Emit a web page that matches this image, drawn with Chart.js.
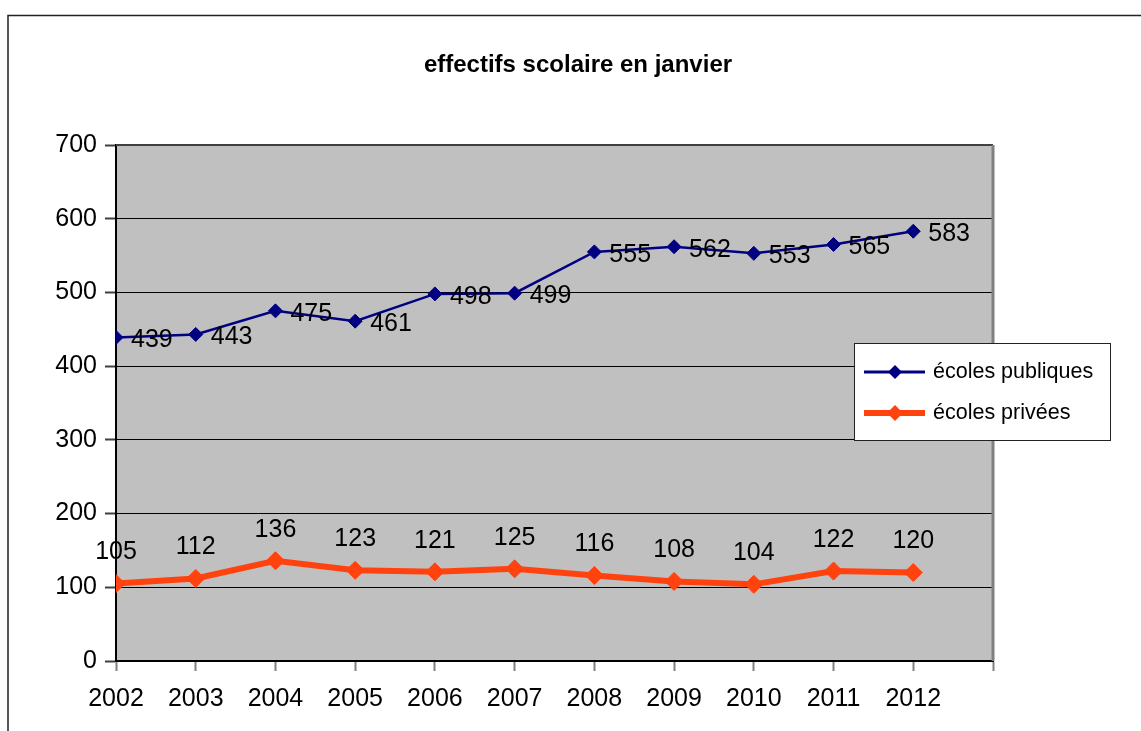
<!DOCTYPE html>
<html>
<head>
<meta charset="utf-8">
<script src="https://cdn.jsdelivr.net/npm/chart.js@4"></script>
<style>
  body { margin: 0; background: #fff; }
  #wrap { width: 1141px; height: 731px; }
</style>
</head>
<body>
<div id="wrap"><canvas id="chart"></canvas></div>
<script>
const years = [2002, 2003, 2004, 2005, 2006, 2007, 2008, 2009, 2010, 2011, 2012]
const publicValues = [439, 443, 475, 461, 498, 499, 555, 562, 553, 565, 583]
const privateValues = [105, 112, 136, 123, 121, 125, 116, 108, 104, 122, 120]
const seriesNames = ['écoles publiques', 'écoles privées']
const titleText = 'effectifs scolaire en janvier'

const FONT = '"Liberation Sans", Arial, sans-serif'
const NAVY = '#000080'
const ORANGE = '#FF420E'

function diamond(ctx, x, y, r, color) {
    ctx.beginPath()
    ctx.moveTo(x, y - r)
    ctx.lineTo(x + r, y)
    ctx.lineTo(x, y + r)
    ctx.lineTo(x - r, y)
    ctx.closePath()
    ctx.fillStyle = color
    ctx.fill()
}

// background, frame, title, value labels and legend box
const decor = {
    id: 'decor',
    beforeDraw(chart) {
        const ctx = chart.ctx
        const a = chart.chartArea
        ctx.save()
        ctx.fillStyle = '#fff'
        ctx.fillRect(0, 0, chart.width, chart.height)
        // outer frame (only top and left visible)
        ctx.strokeStyle = '#222'
        ctx.lineWidth = 1.5
        ctx.beginPath()
        ctx.moveTo(8, chart.height)
        ctx.lineTo(8, 15.5)
        ctx.lineTo(chart.width, 15.5)
        ctx.stroke()
        // plot area
        ctx.fillStyle = '#C0C0C0'
        ctx.fillRect(a.left, a.top, a.right - a.left, a.bottom - a.top)
        // title
        ctx.fillStyle = '#000'
        ctx.font = 'bold 24px ' + FONT
        ctx.textAlign = 'center'
        ctx.textBaseline = 'middle'
        ctx.fillText(titleText, 578, 65)
        ctx.restore()
    },
    beforeDatasetsDraw(chart) {
        const ctx = chart.ctx
        const a = chart.chartArea
        ctx.save()
        ctx.strokeStyle = '#404040'
        ctx.lineWidth = 2
        ctx.beginPath()
        ctx.moveTo(a.left, a.top)
        ctx.lineTo(a.right, a.top)
        ctx.stroke()
        ctx.strokeStyle = '#808080'
        ctx.lineWidth = 3
        ctx.beginPath()
        ctx.moveTo(a.right, a.top)
        ctx.lineTo(a.right, a.bottom)
        ctx.stroke()
        ctx.restore()
    },
    afterDatasetsDraw(chart) {
        const ctx = chart.ctx
        ctx.save()
        ctx.fillStyle = '#000'
        ctx.font = '25px ' + FONT
        ctx.textBaseline = 'middle'
        chart.getDatasetMeta(0).data.forEach((pt, i) => {
            ctx.textAlign = 'left'
            ctx.fillText(String(publicValues[i]), pt.x + 15, pt.y + 3)
        })
        chart.getDatasetMeta(1).data.forEach((pt, i) => {
            ctx.textAlign = 'center'
            ctx.fillText(String(privateValues[i]), pt.x, pt.y - 31)
        })
        ctx.restore()
    },
    afterDraw(chart) {
        const ctx = chart.ctx
        ctx.save()
        ctx.fillStyle = '#fff'
        ctx.fillRect(854, 343, 256, 97)
        ctx.strokeStyle = '#222'
        ctx.lineWidth = 1
        ctx.strokeRect(854.5, 343.5, 256, 97)

        const items = [
            { name: seriesNames[0], color: NAVY, width: 3, r: 7, y: 372 },
            { name: seriesNames[1], color: ORANGE, width: 6, r: 8, y: 413 }
        ]
        items.forEach(it => {
            ctx.strokeStyle = it.color
            ctx.lineWidth = it.width
            ctx.beginPath()
            ctx.moveTo(864, it.y)
            ctx.lineTo(925, it.y)
            ctx.stroke()
            diamond(ctx, 895, it.y, it.r, it.color)
            ctx.fillStyle = '#000'
            ctx.font = '21.5px ' + FONT
            ctx.textAlign = 'left'
            ctx.textBaseline = 'middle'
            ctx.fillText(it.name, 933, it.y)
        })
        ctx.restore()
    }
}

const data = {
    datasets: [{
            label: seriesNames[0],
            data: years.map((yr, i) => ({ x: yr, y: publicValues[i] })),
            borderColor: NAVY,
            backgroundColor: NAVY,
            borderWidth: 2.5,
            pointStyle: 'rectRot',
            pointRadius: 7,
            pointBorderWidth: 1,
            pointBorderColor: NAVY,
            pointBackgroundColor: NAVY
        }, {
            label: seriesNames[1],
            data: years.map((yr, i) => ({ x: yr, y: privateValues[i] })),
            borderColor: ORANGE,
            backgroundColor: ORANGE,
            borderWidth: 6,
            pointStyle: 'rectRot',
            pointRadius: 9,
            pointBorderWidth: 1,
            pointBorderColor: ORANGE,
            pointBackgroundColor: ORANGE
        }]
}

const config = {
    type: 'line',
    data: data,
    plugins: [decor],
    options: {
        responsive: true,
        maintainAspectRatio: false,
        animation: false,
        events: [],
        layout: { padding: { left: 0, top: 145, right: 148, bottom: 0 } },
        plugins: {
            legend: { display: false },
            title: { display: false },
            tooltip: { enabled: false }
        },
        scales: {
            x: {
                type: 'linear',
                min: 2002,
                max: 2013,
                afterFit: s => { s.height = 70 },
                grid: { drawOnChartArea: false, tickLength: 10, tickColor: '#808080', tickWidth: 2 },
                border: { color: '#000', width: 2 },
                ticks: {
                    stepSize: 1,
                    padding: 13,
                    color: '#000',
                    font: { family: FONT, size: 25 },
                    maxRotation: 0,
                    callback: v => v > years[years.length - 1] ? '' : String(v)
                }
            },
            y: {
                min: 0,
                max: 700,
                afterFit: s => { s.width = 116 },
                grid: { color: '#000', lineWidth: 1, tickLength: 11, tickColor: '#404040', tickWidth: 2 },
                border: { color: '#000', width: 2 },
                ticks: {
                    stepSize: 100,
                    padding: 8,
                    color: '#000',
                    font: { family: FONT, size: 25 }
                }
            }
        }
    }
}

let ctx = document.getElementById('chart').getContext('2d')
new Chart(ctx, config)
</script>
</body>
</html>
